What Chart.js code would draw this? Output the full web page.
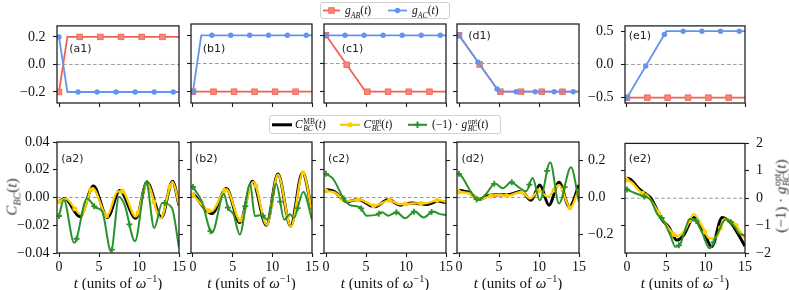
<!DOCTYPE html>
<html>
<head>
<meta charset="utf-8">
<script src="https://cdn.jsdelivr.net/npm/chart.js@4.4.1/dist/chart.umd.min.js"></script>
<style>
html,body{margin:0;padding:0;background:#fff;}
#wrap{position:relative;width:789px;height:290px;overflow:hidden;background:#fff;}
#wrap canvas{position:absolute;}
.t{position:absolute;white-space:nowrap;color:#111;font-family:'Liberation Serif','DejaVu Serif',serif;line-height:1;}
.r{color:#333;font-weight:normal;}
.pl{position:absolute;white-space:nowrap;color:#222;font-family:'DejaVu Sans',sans-serif;font-size:11px;line-height:12px;}
.leg{position:absolute;border:1px solid #d0d0d0;border-radius:3px;background:#fff;box-sizing:border-box;}
sub,sup{font-size:0.68em;line-height:0;}
.ss{display:inline-block;vertical-align:-0.42em;font-size:0.66em;line-height:0.95;margin-left:0.5px;}
.ss span{display:block;}
</style>
</head>
<body>
<div id="wrap"></div>
<script>
// ---------------- data ----------------
const T_TICKS = [0, 5, 10, 15];

// top row: coupling protocols g_AB(t), g_AC(t)
const a1_t = [0, 1.05, 15];
const a1_gAB = [-0.2, 0.2, 0.2];
const a1_gAC = [0.2, -0.2, -0.2];
const b1_t = [0, 1.04, 15];
const b1_gAB = [-0.2, -0.2, -0.2];
const b1_gAC = [-0.2, 0.2, 0.2];
const c1_t = [0, 4.95, 15];
const c1_gAB = [0.2, -0.2, -0.2];
const c1_gAC = [0.2, 0.2, 0.2];
const d1_t = [0, 5, 15];
const d1_gAB = [0.2, -0.2, -0.2];
const d1_gAC = [0.2, -0.2, -0.2];
const e1_t = [0, 5, 15];
const e1_gAB = [-0.5, -0.5, -0.5];
const e1_gAC = [-0.5, 0.5, 0.5];

// bottom row: C_BC^MB, C_BC^opt (left axis) and (-1)*g_BC^opt (right axis)
const a2_tMB = [0, 0.7, 2.6, 4.3, 6.05, 7.6, 9.6, 11.0, 12.8, 14.2, 15];
const a2_CMB = [-0.003, -0.0007, -0.0137, 0.0082, -0.0144, 0.005, -0.0150, 0.0108, -0.0144, 0.0118, -0.0055];
const a2_tOpt = [0, 0.8, 2.8, 4.2, 6.0, 7.3, 7.9, 9.6, 11.0, 12.7, 14.2, 15];
const a2_COpt = [-0.003, -0.0008, -0.0122, 0.0068, -0.0132, 0.0042, 0.0045, -0.0138, 0.0100, -0.0150, 0.0113, -0.0050];
const a2_tG = [0, 0.6, 1.9, 3.5, 4.6, 5.4, 6.5, 7.5, 8.2, 9.5, 10.9, 11.9, 12.9, 14.1, 15];
const a2_gG = [-0.10, -0.014, -0.245, -0.005, -0.055, -0.075, -0.29, 0.004, -0.04, -0.236, 0.085, -0.165, -0.03, -0.055, -0.27];

const b2_tMB = [0, 2.4, 4.2, 5.9, 7.5, 9.25, 10.7, 12.3, 13.8, 15];
const b2_CMB = [0.003, -0.0115, 0.0065, -0.018, 0.0118, -0.0200, 0.0170, -0.0206, 0.0180, -0.009];
const b2_tOpt = [0, 2.3, 4.2, 5.95, 7.6, 9.3, 10.7, 12.35, 13.85, 15];
const b2_COpt = [0.0018, -0.0100, 0.0058, -0.0163, 0.0113, -0.0197, 0.0165, -0.0210, 0.0178, -0.0095];
const b2_tG = [0, 1.1, 2.4, 3.9, 4.4, 5.1, 5.9, 7.2, 7.8, 8.6, 9.4, 10.5, 11.5, 12.2, 12.7, 13.9, 15];
const b2_gG = [0.057, -0.02, -0.19, 0.02, -0.055, -0.09, -0.2, 0.075, -0.10, -0.094, -0.12, 0.075, -0.12, -0.09, -0.11, 0.03, -0.12];

const c2_tMB = [0, 1.1, 2.6, 4.0, 6.1, 7.8, 9.25, 10.7, 12.6, 14.0, 15];
const c2_CMB = [0.0058, 0.0041, -0.003, -0.0015, -0.0067, -0.0015, -0.0055, -0.004, -0.005, -0.0026, -0.0036];
const c2_tOpt = [0, 1.1, 2.6, 4.2, 6.1, 7.9, 9.25, 10.9, 12.4, 14.0, 15];
const c2_COpt = [0.0046, 0.0036, -0.0026, -0.0015, -0.006, -0.002, -0.005, -0.0043, -0.0043, -0.0019, -0.0031];
const c2_tG = [0, 0.9, 2.2, 3.0, 4.25, 5.1, 6.3, 7.0, 7.8, 8.8, 9.9, 11.1, 12.2, 13.4, 14.25, 15];
const c2_gG = [0.128, 0.10, -0.005, -0.041, -0.053, -0.098, -0.094, -0.08, -0.098, -0.08, -0.112, -0.076, -0.108, -0.076, -0.09, -0.094];

const d2_tMB = [0, 1.1, 2.6, 3.8, 5.1, 6.3, 7.8, 9.0, 10.1, 11.25, 12.5, 13.8, 15];
const d2_CMB = [0.0053, 0.004, -0.0012, 0.0017, 0.002, 0.0022, 0.0045, -0.002, 0.009, -0.0055, 0.011, -0.0067, 0.009];
const d2_tOpt = [0, 1.3, 2.6, 3.8, 5.1, 6.0, 7.8, 8.9, 10.0, 11.1, 12.5, 13.9, 15];
const d2_COpt = [0.004, 0.003, -0.0013, 0.0008, 0.002, 0.0012, 0.004, -0.0007, 0.005, 0.0005, 0.009, -0.0075, 0.0065];
const d2_tG = [0, 0.4, 1.5, 2.4, 3.4, 4.5, 5.5, 6.5, 7.4, 8.4, 9.2, 10.1, 11.4, 12.5, 14.0, 15];
const d2_gG = [0.128, 0.11, 0.03, -0.014, 0.02, 0.075, 0.05, 0.083, 0.057, 0.034, 0.105, -0.015, 0.19, -0.032, 0.163, -0.023];

const e2_tMB = [0, 0.5, 1.5, 2.5, 3.0, 3.5, 4.5, 5.3, 6.35, 7.2, 8.5, 9.7, 10.75, 12.1, 13.3, 14.1, 15];
const e2_CMB = [0.148, 0.136, 0.07, 0.026, 0.004, -0.048, -0.16, -0.21, -0.306, -0.27, -0.14, -0.234, -0.354, -0.14, -0.186, -0.26, -0.35];
const e2_tOpt = [0, 0.5, 1.75, 2.6, 3.85, 5.1, 6.35, 7.3, 8.5, 9.5, 10.5, 11.4, 12.4, 13.5, 15];
const e2_COpt = [0.132, 0.12, 0.044, 0.02, -0.09, -0.204, -0.276, -0.24, -0.116, -0.2, -0.294, -0.282, -0.152, -0.176, -0.294];
const e2_tG = [0, 0.9, 2.2, 3.0, 3.85, 4.5, 5.5, 6.15, 6.8, 8.0, 8.5, 9.5, 10.5, 11.4, 12.6, 13.7, 14.3, 15];
const e2_gG = [0.32, 0.2, 0.06, -0.06, -0.58, -0.76, -1.35, -1.77, -1.65, -0.76, -0.76, -1.23, -1.83, -1.35, -0.76, -1.05, -1.3, -1.35];

// axis ticks
const topTicks = [-0.2, 0, 0.2];
const e1Ticks = [-0.5, 0, 0.5];
const cTicks = [-0.04, -0.02, 0, 0.02, 0.04];
const gTicks = [-0.2, 0, 0.2];
const e2cTicks = [-0.2, 0, 0.2];
const e2gTicks = [-2, -1, 0, 1, 2];

// ---------------- styling / helpers ----------------
const RED = '#f2604e', BLUE = '#6495ed', BLACK = '#000000', GOLD = '#ffcc00', GREEN = '#2a922a';
const FONT = "'Liberation Serif', serif";
const PADL = 52, PADR = 50, PADT = 14, PADB = 46;
const wrap = document.getElementById('wrap');

function fmt(v, d) {
  const s = Math.abs(v).toFixed(d);
  return (v < -1e-12 ? '\u2212' : '') + s;
}
function pts(ts, vs) { return ts.map((t, i) => ({x: t, y: vs[i]})); }

function bez(p0, p1, p2, p3, u) {
  const m = 1 - u;
  return m*m*m*p0 + 3*m*m*u*p1 + 3*m*u*u*p2 + u*u*u*p3;
}
function drawMarker(ctx, style, x, y, r, fill, stroke) {
  ctx.fillStyle = fill; ctx.strokeStyle = stroke || fill;
  if (style === 'circle') { ctx.beginPath(); ctx.arc(x, y, r, 0, Math.PI*2); ctx.fill(); }
  else if (style === 'square') { ctx.fillRect(x - r, y - r, 2*r, 2*r); if (stroke) { ctx.lineWidth = 0.8; ctx.strokeRect(x - r, y - r, 2*r, 2*r); } }
  else if (style === 'plus') { ctx.lineWidth = 1.8; ctx.beginPath(); ctx.moveTo(x - r, y); ctx.lineTo(x + r, y); ctx.moveTo(x, y - r); ctx.lineTo(x, y + r); ctx.stroke(); }
}

const markerPlugin = {
  id: 'mk',
  afterDatasetDraw(chart, args) {
    const ds = chart.data.datasets[args.index];
    if (!ds.mkStep) return;
    const P = args.meta.data, xs = chart.scales.x, ctx = chart.ctx, a = chart.chartArea;
    const curved = ds.cubicInterpolationMode === 'monotone';
    ctx.save();
    ctx.beginPath(); ctx.rect(a.left, a.top, a.right - a.left, a.bottom - a.top); ctx.clip();
    for (let k = 0; k * ds.mkStep <= 15.0001; k++) {
      const px = xs.getPixelForValue(k * ds.mkStep);
      let py = null;
      for (let i = 0; i < P.length - 1; i++) {
        const p = P[i], q = P[i + 1];
        if (px >= p.x - 1e-6 && px <= q.x + 1e-6) {
          if (curved && p.cp2x !== undefined && q.cp1x !== undefined) {
            let lo = 0, hi = 1;
            for (let it = 0; it < 40; it++) {
              const u = (lo + hi) / 2;
              if (bez(p.x, p.cp2x, q.cp1x, q.x, u) < px) lo = u; else hi = u;
            }
            py = bez(p.y, p.cp2y, q.cp1y, q.y, (lo + hi) / 2);
          } else {
            py = p.y + (q.y - p.y) * (px - p.x) / ((q.x - p.x) || 1);
          }
          break;
        }
      }
      if (py !== null) drawMarker(ctx, ds.mkStyle, px, py, ds.mkR, ds.mkFill || ds.borderColor, ds.mkStroke);
    }
    ctx.restore();
  }
};

const framePlugin = {
  id: 'frame',
  beforeDatasetsDraw(chart) {
    const ctx = chart.ctx, a = chart.chartArea, y = chart.scales.y.getPixelForValue(0);
    ctx.save(); ctx.strokeStyle = '#9c9c9c'; ctx.lineWidth = 1; ctx.setLineDash([3.6, 2.4]);
    ctx.beginPath(); ctx.moveTo(a.left, y); ctx.lineTo(a.right, y); ctx.stroke(); ctx.restore();
  },
  afterDraw(chart) {
    const ctx = chart.ctx, a = chart.chartArea;
    ctx.save(); ctx.strokeStyle = '#1a1a1a'; ctx.lineWidth = 1.25;
    ctx.strokeRect(a.left, a.top, a.right - a.left, a.bottom - a.top); ctx.restore();
  }
};

function topDS(ts, gab, gac) {
  return [
    {data: pts(ts, gab), borderColor: RED, borderWidth: 1.8, pointRadius: 0, tension: 0, order: 1,
     mkStep: 2.586, mkStyle: 'square', mkR: 2.8, mkFill: '#f4877b', mkStroke: RED},
    {data: pts(ts, gac), borderColor: BLUE, borderWidth: 1.8, pointRadius: 0, tension: 0, order: 0,
     mkStep: 2.38, mkStyle: 'circle', mkR: 2.7}
  ];
}
function botDS(tMB, cMB, tOpt, cOpt, tG, gG) {
  return [
    {data: pts(tMB, cMB), borderColor: BLACK, borderWidth: 3, pointRadius: 0, cubicInterpolationMode: 'monotone', yAxisID: 'y', order: 2},
    {data: pts(tOpt, cOpt), borderColor: GOLD, borderWidth: 2.3, pointRadius: 0, cubicInterpolationMode: 'monotone', yAxisID: 'y', order: 1,
     mkStep: 1.98, mkStyle: 'circle', mkR: 2.5},
    {data: pts(tG, gG), borderColor: GREEN, borderWidth: 2, pointRadius: 0, cubicInterpolationMode: 'monotone', yAxisID: 'y2', order: 0,
     mkStep: 2.2, mkStyle: 'plus', mkR: 3}
  ];
}

function makeChart(box, o) {
  const W = box.r - box.l + PADL + PADR;
  const H = box.b - box.t + PADT + PADB;
  const cv = document.createElement('canvas');
  cv.width = W; cv.height = H;
  cv.style.left = (box.l - PADL) + 'px'; cv.style.top = (box.t - PADT) + 'px';
  cv.style.width = W + 'px'; cv.style.height = H + 'px';
  wrap.appendChild(cv);
  const tickFont = {family: FONT, size: 14};
  const grid = () => ({display: true, drawOnChartArea: false, drawTicks: true, tickLength: 4, tickWidth: 1.1, tickColor: '#1a1a1a'});
  const yScale = (c, pos) => ({
    type: 'linear', position: pos, min: c.min, max: c.max,
    afterBuildTicks: s => { s.ticks = c.ticks.map(v => ({value: v})); },
    afterFit: s => { s.width = pos === 'left' ? PADL : PADR; },
    ticks: {display: !!c.labels, font: tickFont, color: '#111', padding: c.pad, autoSkip: false, callback: v => fmt(v, c.dec)},
    grid: grid(), border: {display: false}
  });
  const scales = {
    x: {type: 'linear', min: -0.25, max: 15,
        afterBuildTicks: s => { s.ticks = T_TICKS.map(v => ({value: v})); },
        afterFit: s => { s.height = PADB; },
        ticks: {display: !!o.xLabels, font: tickFont, color: '#111', padding: 2, maxRotation: 0, autoSkip: false, callback: v => String(v)},
        grid: grid(), border: {display: false}},
    y: yScale(o.y, 'left')
  };
  if (o.y2) scales.y2 = yScale(o.y2, 'right');
  new Chart(cv, {
    type: 'line',
    data: {datasets: o.datasets},
    options: {
      responsive: false, animation: false, devicePixelRatio: 1, events: [],
      layout: {padding: {top: PADT, right: o.y2 ? 0 : PADR, left: 0, bottom: 0}},
      plugins: {legend: {display: false}, tooltip: {enabled: false}},
      scales
    },
    plugins: [framePlugin, markerPlugin]
  });
}

// panel boxes (pixel frames)
const cols = [{l: 57, r: 179}, {l: 191, r: 312}, {l: 324, r: 446}, {l: 457, r: 579}, {l: 625, r: 745}];
const row1 = {t: 24, b: 103}, row2 = {t: 142, b: 253};
const B = (c, r) => ({l: cols[c].l, r: cols[c].r, t: r.t, b: r.b});

const topY = lab => ({min: -0.28, max: 0.28, ticks: topTicks, labels: lab, dec: 1, pad: 7.5});
makeChart(B(0, row1), {datasets: topDS(a1_t, a1_gAB, a1_gAC), y: topY(true)});
makeChart(B(1, row1), {datasets: topDS(b1_t, b1_gAB, b1_gAC), y: topY(false)});
makeChart(B(2, row1), {datasets: topDS(c1_t, c1_gAB, c1_gAC), y: topY(false)});
makeChart(B(3, row1), {datasets: topDS(d1_t, d1_gAB, d1_gAC), y: topY(false)});
makeChart(B(4, row1), {datasets: topDS(e1_t, e1_gAB, e1_gAC), y: {min: -0.58, max: 0.58, ticks: e1Ticks, labels: true, dec: 1, pad: 7.5}});

const cY = lab => ({min: -0.04, max: 0.04, ticks: cTicks, labels: lab, dec: 2, pad: 3.5});
const gY = lab => ({min: -0.3, max: 0.3, ticks: gTicks, labels: lab, dec: 1, pad: 5});
makeChart(B(0, row2), {datasets: botDS(a2_tMB, a2_CMB, a2_tOpt, a2_COpt, a2_tG, a2_gG), y: cY(true), y2: gY(false), xLabels: true});
makeChart(B(1, row2), {datasets: botDS(b2_tMB, b2_CMB, b2_tOpt, b2_COpt, b2_tG, b2_gG), y: cY(false), y2: gY(false), xLabels: true});
makeChart(B(2, row2), {datasets: botDS(c2_tMB, c2_CMB, c2_tOpt, c2_COpt, c2_tG, c2_gG), y: cY(false), y2: gY(false), xLabels: true});
makeChart(B(3, row2), {datasets: botDS(d2_tMB, d2_CMB, d2_tOpt, d2_COpt, d2_tG, d2_gG), y: cY(false), y2: gY(true), xLabels: true});
makeChart(B(4, row2), {datasets: botDS(e2_tMB, e2_CMB, e2_tOpt, e2_COpt, e2_tG, e2_gG),
  y: {min: -0.4, max: 0.4, ticks: e2cTicks, labels: false, dec: 1, pad: 3.5},
  y2: {min: -2, max: 2, ticks: e2gTicks, labels: true, dec: 0, pad: 7}, xLabels: true});

// ---------------- text & legends (HTML) ----------------
function addEl(cls, html, x, y, anchor, size, rot) {
  const d = document.createElement('div');
  d.className = cls; d.innerHTML = html;
  d.style.left = x + 'px'; d.style.top = y + 'px';
  if (size) d.style.fontSize = size + 'px';
  let tr = anchor === 'left' ? 'translate(0,-50%)' : 'translate(-50%,-50%)';
  if (rot) tr += ' rotate(' + rot + 'deg)';
  d.style.transform = tr;
  wrap.appendChild(d);
  return d;
}
// panel labels
const plabs = [['(a1)', 69.3, 49], ['(b1)', 202.7, 49], ['(c1)', 341.7, 49], ['(d1)', 468.3, 36], ['(e1)', 628.7, 36],
               ['(a2)', 61.3, 158.5], ['(b2)', 195, 158.5], ['(c2)', 328, 158.5], ['(d2)', 461.5, 158.5], ['(e2)', 628.7, 158.5]];
plabs.forEach(p => addEl('pl', p[0], p[1], p[2], 'left'));

// x-axis titles
const xt = '<i>t</i> (units of <i>\u03c9</i><sup>\u22121</sup>)';
cols.forEach(c => addEl('t', xt, (c.l + c.r) / 2, 282.5, 'center', 15));
// y-axis titles
addEl('t r', '<i>C</i><sub><i>BC</i></sub>(<i>t</i>)', 12, 197, 'center', 15, -90);
addEl('t r', '(\u22121) \u00b7 <i>g</i><span class="ss"><span>opt</span><span><i>BC</i></span></span>(<i>t</i>)', 782, 196, 'center', 15, -90);

// legend boxes
const lg1 = document.createElement('div'); lg1.className = 'leg';
Object.assign(lg1.style, {left: '320px', top: '2px', width: '130px', height: '17px'}); wrap.appendChild(lg1);
const lg2 = document.createElement('div'); lg2.className = 'leg';
Object.assign(lg2.style, {left: '269px', top: '115px', width: '232px', height: '19px'}); wrap.appendChild(lg2);

const svgNS = 'http://www.w3.org/2000/svg';
const svg = document.createElementNS(svgNS, 'svg');
svg.setAttribute('width', '789'); svg.setAttribute('height', '290');
Object.assign(svg.style, {position: 'absolute', left: '0', top: '0', pointerEvents: 'none'});
wrap.appendChild(svg);
function sv(tag, attrs) { const e = document.createElementNS(svgNS, tag); for (const k in attrs) e.setAttribute(k, attrs[k]); svg.appendChild(e); }
// legend 1 samples
sv('line', {x1: 323, y1: 10.5, x2: 340, y2: 10.5, stroke: RED, 'stroke-width': 1.8});
sv('rect', {x: 328.7, y: 7.7, width: 5.6, height: 5.6, fill: '#f4877b', stroke: RED, 'stroke-width': 0.8});
sv('line', {x1: 388, y1: 10.5, x2: 407, y2: 10.5, stroke: BLUE, 'stroke-width': 1.8});
sv('circle', {cx: 397.5, cy: 10.5, r: 2.7, fill: BLUE});
// legend 2 samples
sv('line', {x1: 272, y1: 124.8, x2: 292, y2: 124.8, stroke: BLACK, 'stroke-width': 3});
sv('line', {x1: 340, y1: 124.8, x2: 360, y2: 124.8, stroke: GOLD, 'stroke-width': 2.3});
sv('circle', {cx: 350, cy: 124.8, r: 2.5, fill: GOLD});
sv('line', {x1: 408, y1: 124.8, x2: 427, y2: 124.8, stroke: GREEN, 'stroke-width': 2});
sv('path', {d: 'M414.3 124.8 H420.7 M417.5 121.6 V128', stroke: GREEN, 'stroke-width': 2, fill: 'none'});

addEl('t', '<i>g</i><sub><i>AB</i></sub>(<i>t</i>)', 345, 10.5, 'left', 11.5);
addEl('t', '<i>g</i><sub><i>AC</i></sub>(<i>t</i>)', 412, 10.5, 'left', 11.5);
addEl('t', '<i>C</i><span class="ss"><span>MB</span><span><i>BC</i></span></span>(<i>t</i>)', 295, 124.5, 'left', 11.5);
addEl('t', '<i>C</i><span class="ss"><span>opt</span><span><i>BC</i></span></span>(<i>t</i>)', 363.5, 124.5, 'left', 11.5);
addEl('t', '(\u22121) \u00b7 <i>g</i><span class="ss"><span>opt</span><span><i>BC</i></span></span>(<i>t</i>)', 432, 124.5, 'left', 11.5);
</script>
</body>
</html>
